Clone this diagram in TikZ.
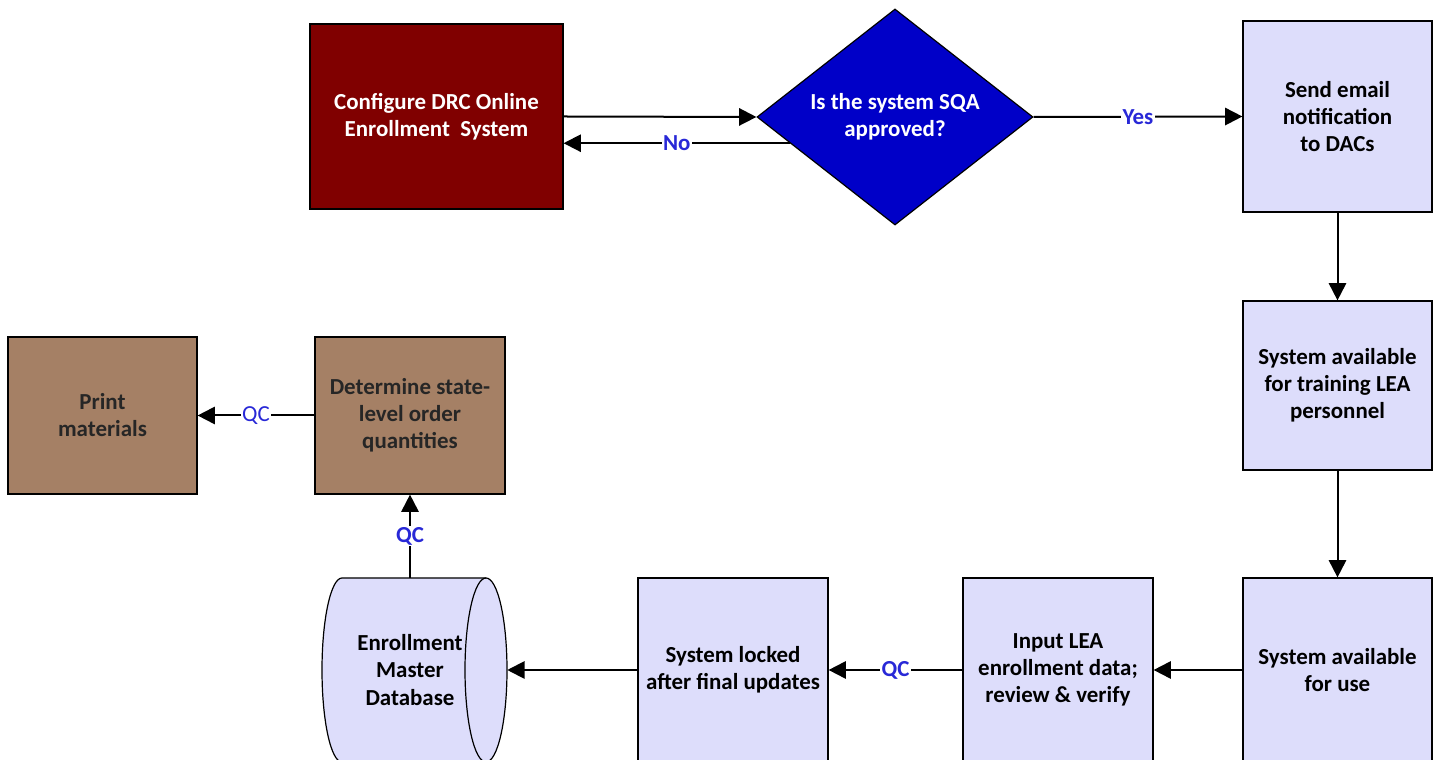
\documentclass[tikz,border=0pt]{standalone}
\usepackage{fontspec}
\setmainfont{Carlito}
\usetikzlibrary{shapes.geometric,arrows.meta,calc}
\definecolor{cfgred}{RGB}{128,0,0}
\definecolor{qblue}{RGB}{0,0,200}
\definecolor{lav}{RGB}{221,221,251}
\definecolor{tan}{RGB}{165,128,101}
\definecolor{lblblue}{RGB}{40,40,215}
\begin{document}
\begin{tikzpicture}[x=0.75pt,y=0.75pt,
  txt/.style={font=\bfseries\fontsize{17.2}{20.3}\selectfont, align=center},
  box/.style={txt, draw=black, line width=0.9pt, inner sep=0pt},
  lavbox/.style={box, fill=lav, text=black},
  tanbox/.style={box, fill=tan, text=black!85},
  wh/.style 2 args={minimum width=#1*0.75pt, minimum height=#2*0.75pt},
  arr/.style={line width=1.5pt, -{Triangle[length=13pt,width=13pt]}},
  lbl/.style={fill=white, inner sep=1pt, text=lblblue, font=\bfseries\fontsize{17.2}{20}\selectfont},
  lblr/.style={lbl, font=\fontsize{17.2}{20}\selectfont}]
\useasboundingbox (0,0) rectangle (1440,760);

% top row: configuration and approval
\node[box, fill=cfgred, text=white, wh={253}{185}] (cfg) at (436.5,643.5)
  {Configure DRC Online\\Enrollment\ \ System};
\node[txt, draw=black, line width=0.9pt, fill=qblue, text=white, shape=diamond,
  inner sep=0pt, shape aspect=1.28, wh={276}{216}]
  (dia) at (895,643) {Is the system SQA\\approved?};
\node[lavbox, wh={189}{191}] (email) at (1337.5,643.5) {Send email\\notification\\to DACs};

% right column and bottom row
\node[lavbox, wh={189}{169}] (train) at (1337.5,374.5) {System available\\for training LEA\\personnel};
\node[lavbox, wh={189}{184}] (use) at (1337.5,90) {System available\\for use};
\node[lavbox, wh={190}{184}] (input) at (1058,90) {Input LEA\\enrollment data;\\review \& verify};
\node[lavbox, wh={190}{184}] (locked) at (733,90) {System locked\\after final updates};

% database drum
\fill[lav] (342,182) -- (486,182) arc[start angle=90, end angle=-90, x radius=21, y radius=92]
  -- (342,-2) arc[start angle=270, end angle=90, x radius=20, y radius=92] -- cycle;
\draw[line width=0.9pt] (486,182) -- (342,182) arc[start angle=90, end angle=270, x radius=20, y radius=92] -- (486,-2);
\draw[line width=0.9pt] (486,90) ellipse[x radius=21, y radius=92];
\node[txt, inner sep=0pt, wh={176}{184}] (db) at (410,90) {Enrollment\\Master\\Database};

% left: ordering and printing
\node[tanbox, wh={190}{157}] (det) at (410,344.5) {Determine state-\\level order\\quantities};
\node[tanbox, wh={189}{157}] (print) at (102.5,344.5) {Print\\materials};

% connectors
\draw[arr] (cfg.east) -- (dia.west);
\draw[arr] (dia.194) -- (dia.194 -| cfg.east) node[lbl, midway] {No};
\draw[arr] (dia.east) -- (email.west) node[lbl, midway] {Yes};
\draw[arr] (email.south) -- (train.north);
\draw[arr] (train.south) -- (use.north);
\draw[arr] (use.west) -- (input.east);
\draw[arr] (input.west) -- (locked.east) node[lbl, midway] {QC};
\draw[arr] (locked.west) -- ($(db.east)+(9,0)$);
\draw[arr] (det.south |- db.north) -- (det.south) node[lbl, midway] {QC};
\draw[arr] (det.west) -- (print.east) node[lblr, midway] {QC};
\end{tikzpicture}
\end{document}
